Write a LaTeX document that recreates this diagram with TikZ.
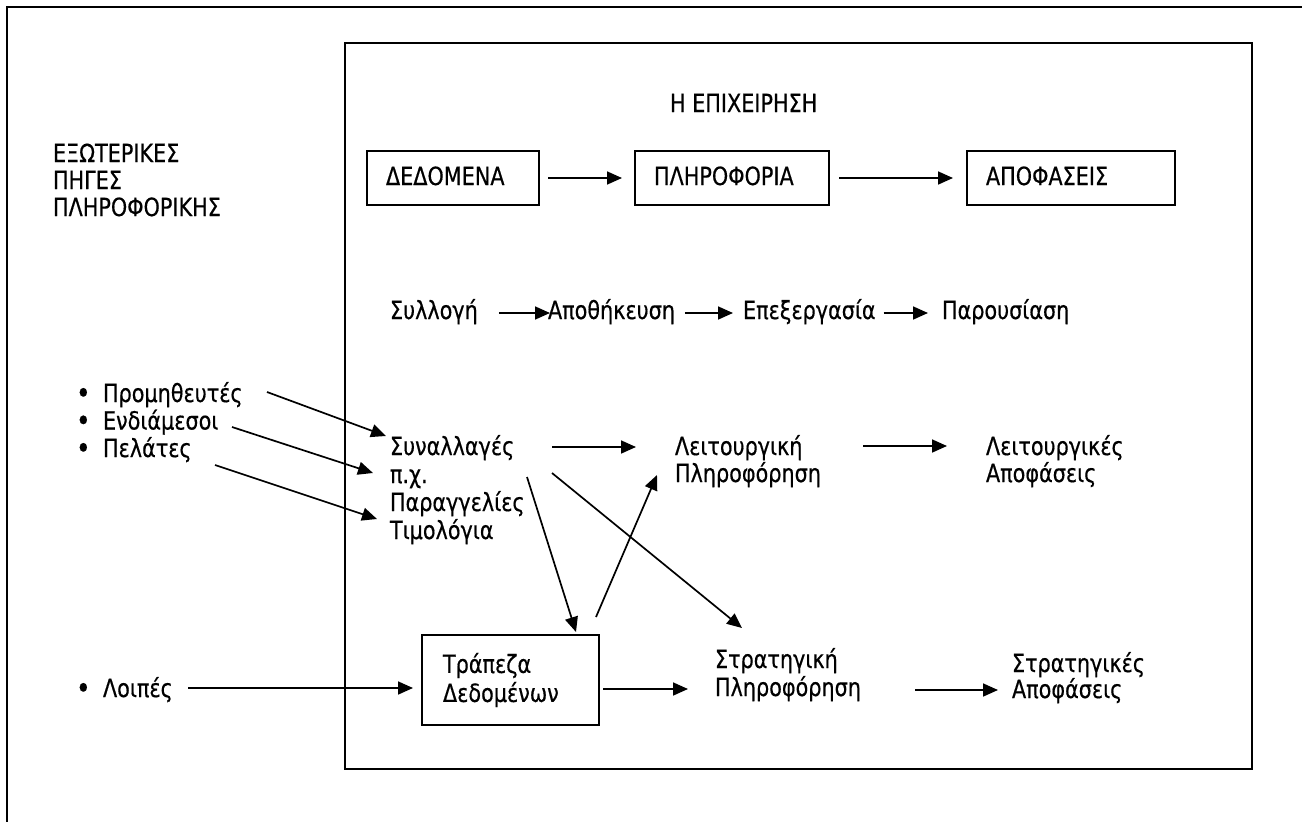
\documentclass[tikz,border=0pt]{standalone}
\usepackage{fontspec}
\setmainfont{DejaVu Sans}[FakeStretch=0.83, FakeBold=0.5]
\usetikzlibrary{arrows.meta}
\newcommand\bulletmark{\makebox[27pt][l]{\raisebox{-1.5pt}{\fontsize{30}{30}\selectfont •}}}
\begin{document}
\begin{tikzpicture}[x=1pt,y=-1pt,
  every node/.style={inner sep=0pt, outer sep=0pt, font=\fontsize{25}{28}\selectfont},
  lbl/.style={anchor=base west, text height=17pt, text depth=5pt},
  lbls/.style={anchor=base west, align=left},
  box/.style={draw, line width=2pt, anchor=north west, align=left,
    inner xsep=19pt, minimum height=54pt, text height=18pt, text depth=4pt},
  arr/.style={line width=1.7pt, -{Triangle[length=15pt,width=13pt]}},
  frame/.style={line width=2pt}
]
\useasboundingbox (0,0) rectangle (1302,822);

% page frame
\draw[frame] (7,830) -- (7,7) -- (1310,7);

% the firm
\node[draw, frame, anchor=north west, minimum width=907pt, minimum height=726pt] (firm) at (345,43) {};
\node[lbl] (firmtitle) at (670,112) {Η ΕΠΙΧΕΙΡΗΣΗ};

% external sources (multi-line labels are anchored at their last baseline)
\node[lbls, font=\fontsize{25}{27}\selectfont] (ext) at (53,216) {ΕΞΩΤΕΡΙΚΕΣ\\ΠΗΓΕΣ\\ΠΛΗΡΟΦΟΡΙΚΗΣ};

% data -> information -> decisions
\node[box, text width=134pt] (data) at (367,151) {ΔΕΔΟΜΕΝΑ};
\node[box, text width=156pt] (info) at (635,151) {ΠΛΗΡΟΦΟΡΙΑ};
\node[box, text width=170pt] (dec) at (967,151) {ΑΠΟΦΑΣΕΙΣ};
\draw[arr, shorten <=9pt, shorten >=13pt] (data.east) -- (info.west);
\draw[arr, shorten <=10pt, shorten >=14pt] (info.east) -- (dec.west);

% processing chain
\node[lbl] (coll) at (390,319) {Συλλογή};
\node[lbl] (stor) at (548,319) {Αποθήκευση};
\node[lbl] (proc) at (743,319) {Επεξεργασία};
\node[lbl] (pres) at (942,319) {Παρουσίαση};
\draw[arr, shorten <=21pt, shorten >=-2pt] (coll.east) -- (stor.west);
\draw[arr, shorten <=10pt, shorten >=10pt] (stor.east) -- (proc.west);
\draw[arr, shorten <=8pt, shorten >=14pt] (proc.east) -- (pres.west);

% sources
\node[lbls, font=\fontsize{25}{27.5}\selectfont] (src) at (76,457)
  {\bulletmark Προμηθευτές\\\bulletmark Ενδιάμεσοι\\\bulletmark Πελάτες};
\node[lbl] (other) at (76,697) {\bulletmark Λοιπές};

% transactions and information
\node[lbls, font=\fontsize{25}{28}\selectfont] (trans) at (390,539) {Συναλλαγές\\π.χ.\\Παραγγελίες\\Τιμολόγια};
\node[lbls, font=\fontsize{25}{27}\selectfont] (opinfo) at (675,482) {Λειτουργική\\Πληροφόρηση};
\node[lbls, font=\fontsize{25}{27}\selectfont] (opdec) at (986,482) {Λειτουργικές\\Αποφάσεις};
\node[draw, frame, anchor=north west, align=left, minimum width=177pt, minimum height=90pt,
  text width=135pt, inner xsep=21pt, font=\fontsize{25}{29}\selectfont] (bank) at (422,635) {Τράπεζα\\Δεδομένων};
\node[lbls, font=\fontsize{25}{28}\selectfont] (stinfo) at (715,696) {Στρατηγική\\Πληροφόρηση};
\node[lbls, font=\fontsize{25}{26}\selectfont] (stdec) at (1012,698) {Στρατηγικές\\Αποφάσεις};

% connector ends
\coordinate (sup-out) at (267,392);
\coordinate (int-out) at (232,427);
\coordinate (cus-out) at (215,465);
\coordinate (trans-in1) at (386,436);
\coordinate (trans-in2) at (373,473);
\coordinate (trans-in3) at (377,519);
\coordinate (trans-out) at (552,447);
\coordinate (opinfo-in) at (636,447);
\coordinate (opinfo-out) at (863,446);
\coordinate (opdec-in) at (947,446);
\coordinate (trans-down) at (527,477);
\coordinate (bank-in) at (576,632);
\coordinate (bank-up) at (596,617);
\coordinate (opinfo-in2) at (657,475);
\coordinate (trans-diag) at (552,473);
\coordinate (stinfo-in) at (742,628);
\coordinate (other-out) at (188,688);
\coordinate (bank-in2) at (413,688);
\coordinate (bank-out) at (603,689);
\coordinate (stinfo-in2) at (688,689);
\coordinate (stinfo-out) at (915,690);
\coordinate (stdec-in) at (998,690);

\draw[arr] (sup-out) -- (trans-in1);
\draw[arr] (int-out) -- (trans-in2);
\draw[arr] (cus-out) -- (trans-in3);
\draw[arr] (trans-out) -- (opinfo-in);
\draw[arr] (opinfo-out) -- (opdec-in);
\draw[arr] (trans-down) -- (bank-in);
\draw[arr] (bank-up) -- (opinfo-in2);
\draw[arr] (trans-diag) -- (stinfo-in);
\draw[arr] (other-out) -- (bank-in2);
\draw[arr] (bank-out) -- (stinfo-in2);
\draw[arr] (stinfo-out) -- (stdec-in);
\end{tikzpicture}
\end{document}
